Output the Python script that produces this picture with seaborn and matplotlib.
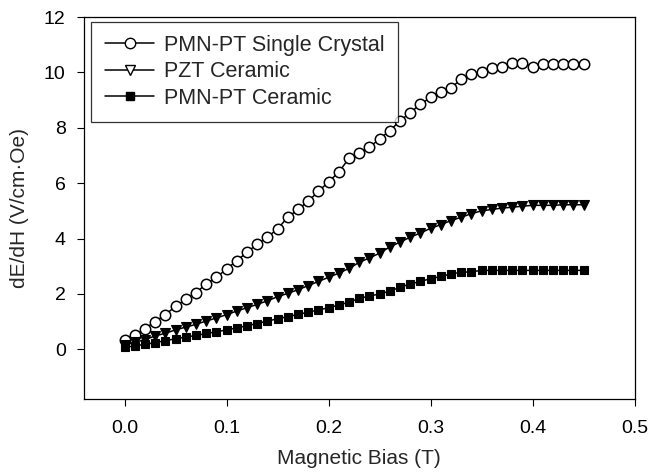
import numpy as np
import pandas as pd
import matplotlib
matplotlib.use("Agg")
import matplotlib.pyplot as plt
import seaborn as sns
from matplotlib.lines import Line2D

bias = [round(0.01 * i, 2) for i in range(46)]

single_crystal = [0.35, 0.5, 0.75, 1.0, 1.25, 1.55, 1.8, 2.05, 2.35, 2.6,
                  2.9, 3.2, 3.5, 3.8, 4.05, 4.35, 4.77, 5.05, 5.35, 5.7,
                  6.05, 6.4, 6.9, 7.1, 7.3, 7.6, 7.9, 8.25, 8.55, 8.85,
                  9.1, 9.3, 9.45, 9.75, 9.95, 10.0, 10.15, 10.2, 10.35, 10.35,
                  10.2, 10.3, 10.3, 10.3, 10.3, 10.3]

pzt_ceramic = [0.15, 0.25, 0.35, 0.48, 0.58, 0.70, 0.80, 0.90, 1.02, 1.13,
               1.25, 1.38, 1.50, 1.62, 1.75, 1.90, 2.02, 2.15, 2.30, 2.45,
               2.60, 2.75, 2.92, 3.14, 3.30, 3.47, 3.70, 3.87, 4.05, 4.20,
               4.37, 4.50, 4.65, 4.77, 4.90, 5.00, 5.05, 5.10, 5.13, 5.17,
               5.20, 5.20, 5.20, 5.22, 5.22, 5.22]

pmnpt_ceramic = [0.07, 0.12, 0.18, 0.24, 0.31, 0.38, 0.44, 0.50, 0.57, 0.63,
                 0.70, 0.77, 0.85, 0.93, 1.02, 1.10, 1.18, 1.26, 1.34, 1.42,
                 1.50, 1.60, 1.70, 1.84, 1.92, 2.00, 2.10, 2.24, 2.36, 2.45,
                 2.55, 2.63, 2.72, 2.78, 2.80, 2.85, 2.85, 2.85, 2.85, 2.85,
                 2.85, 2.85, 2.85, 2.85, 2.85, 2.85]

labels = ["PMN-PT Single Crystal", "PZT Ceramic", "PMN-PT Ceramic"]
x_ticks = [0.0, 0.1, 0.2, 0.3, 0.4, 0.5]
y_ticks = [0, 2, 4, 6, 8, 10, 12]

sns.set_style("ticks")
plt.rcParams['font.family'] = ['Liberation Sans', 'DejaVu Sans']

fig = plt.figure(figsize=(6.49, 4.74), dpi=100)
ax = fig.add_axes([0.129, 0.158, 0.849, 0.806])

df1 = pd.DataFrame({"x": bias, "y": single_crystal})
df2 = pd.DataFrame({"x": bias, "y": pzt_ceramic})
df3 = pd.DataFrame({"x": bias, "y": pmnpt_ceramic})

sns.lineplot(data=df1, x="x", y="y", ax=ax, color="black", linewidth=1.1,
             marker="o", markersize=7.5, markerfacecolor="white",
             markeredgecolor="black", markeredgewidth=1.1)
sns.lineplot(data=df2, x="x", y="y", ax=ax, color="black", linewidth=1.1,
             marker="v", markersize=7.5, markerfacecolor="black",
             markeredgecolor="black", markeredgewidth=0.8)
sns.lineplot(data=df3, x="x", y="y", ax=ax, color="black", linewidth=1.1,
             marker="s", markersize=6, markerfacecolor="black",
             markeredgecolor="black", markeredgewidth=0.8)

ax.set_xlim(-0.04, 0.5)
ax.set_ylim(-1.8, 12)
ax.set_xticks(x_ticks)
ax.set_xticklabels([f"{v:.1f}" for v in x_ticks])
ax.set_yticks(y_ticks)
ax.tick_params(direction="out", length=5, width=0.8, labelsize=14, colors="black")
ax.tick_params(axis="x", pad=10)
ax.tick_params(axis="y", pad=8)
for s in ax.spines.values():
    s.set_visible(True)
    s.set_color("black")
    s.set_linewidth(0.9)
ax.set_xlabel("Magnetic Bias (T)", fontsize=15, labelpad=9)
ax.set_ylabel("dE/dH (V/cm\u00b7Oe)", fontsize=15, labelpad=11)

handles = [
    Line2D([], [], color="black", lw=1.1, marker="o", markersize=7.5,
           markerfacecolor="white", markeredgecolor="black"),
    Line2D([], [], color="black", lw=1.1, marker="v", markersize=7.5,
           markerfacecolor="white", markeredgecolor="black"),
    Line2D([], [], color="black", lw=1.1, marker="s", markersize=6,
           markerfacecolor="black", markeredgecolor="black"),
]
leg = ax.legend(handles, labels, loc="upper left", bbox_to_anchor=(0.014, 0.988),
                fontsize=15.5, frameon=True, fancybox=False, handlelength=2.3,
                borderpad=0.62, labelspacing=0.25, handletextpad=0.45,
                borderaxespad=0.0)
leg.get_frame().set_edgecolor("black")
leg.get_frame().set_linewidth(0.9)

fig.savefig("out.png", dpi=100)
